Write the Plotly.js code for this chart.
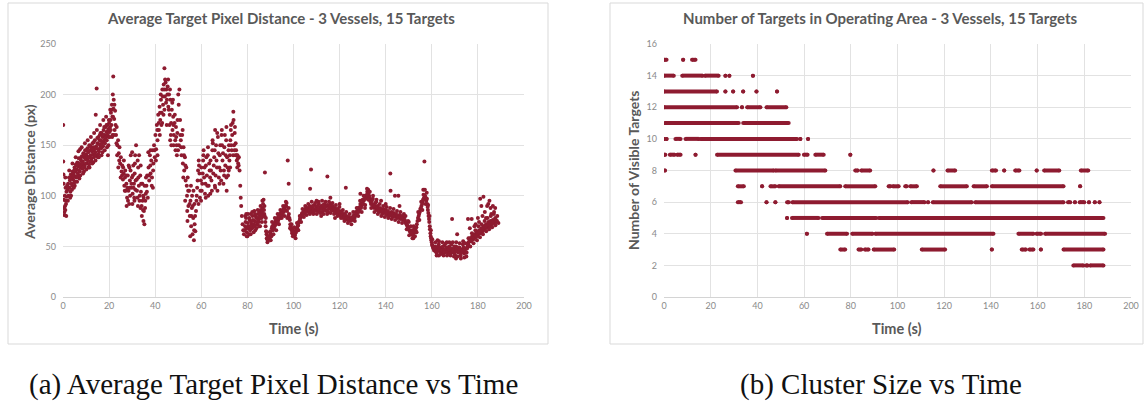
<!DOCTYPE html>
<html>
<head>
<meta charset="utf-8">
<script src="https://cdn.plot.ly/plotly-3.0.1.min.js"></script>
<style>html,body{margin:0;padding:0;background:#fff;}#chart{width:1144px;height:406px;}</style>
</head>
<body>
<div id="chart"></div>
<script>
// ---------------- Chart (a): average target pixel distance vs time ----------------
const timeA = [
0.1,0.1,0.2,0.3,0.4,0.5,0.6,0.7,0.8,0.9,1.0,1.1,1.2,1.3,1.5,1.6,1.8,2.0,
2.2,2.4,2.6,2.8,3.0,3.2,3.4,3.6,3.8,4.0,4.2,4.4,4.6,4.8,5.0,5.2,5.4,5.6,5.8,6.0,
6.2,6.4,6.6,6.8,7.0,7.2,7.4,7.6,7.8,8.0,8.2,8.4,8.6,8.8,9.0,9.2,9.4,9.6,9.8,10.0,
10.2,10.4,10.6,10.8,11.0,11.2,11.4,11.6,11.8,12.0,12.2,12.4,12.6,12.8,13.0,13.2,13.4,13.6,13.8,14.0,
14.2,14.4,14.6,14.8,15.0,15.2,15.4,15.6,15.8,16.0,16.2,16.4,16.6,16.8,17.0,17.2,17.4,17.6,17.8,18.0,
18.2,18.4,18.6,18.8,19.0,19.2,19.4,19.6,19.8,20.0,20.2,20.4,
3.1,5.1,7.1,9.1,11.1,13.1,15.1,17.1,19.1,19.5,
20.6,20.8,21.0,21.2,21.4,21.6,21.8,21.9,22.0,22.2,22.4,21.5,22.6,22.8,
23.0,23.3,23.6,23.9,24.2,24.5,24.8,25.1,25.4,25.7,26.0,26.3,26.6,26.9,27.2,23.5,24.0,25.0,
27.5,27.8,28.1,28.4,28.7,29.0,29.3,29.6,29.9,30.2,30.5,30.8,31.1,31.4,31.7,32.0,32.3,32.6,32.9,33.2,
33.5,33.8,34.1,34.4,34.7,35.0,35.3,35.6,35.9,34.9,33.0,30.0,31.0,28.9,
36.2,36.5,36.8,37.1,37.4,37.7,38.0,38.3,38.6,38.9,39.2,39.5,39.8,40.1,40.4,40.7,41.0,41.3,37.0,39.0,
41.6,41.9,42.2,42.5,42.8,43.1,43.4,43.7,44.0,44.2,44.5,44.8,45.1,45.4,45.7,46.0,46.3,46.6,46.9,47.2,
47.5,47.8,48.1,48.4,48.7,49.0,49.3,49.6,49.9,50.2,50.5,50.8,42.0,43.0,45.0,46.5,48.0,
51.1,51.4,51.7,52.0,52.3,52.6,52.9,53.2,53.5,53.8,54.1,54.4,54.7,55.0,55.3,55.6,55.9,56.2,56.5,56.8,
57.1,57.4,57.7,54.0,55.5,56.0,53.0,57.0,
58.0,58.4,58.8,59.2,59.6,60.0,60.4,60.8,61.2,61.6,62.0,62.4,62.8,63.2,63.6,64.0,64.4,64.8,65.2,65.6,
66.0,66.4,66.8,67.2,67.6,68.0,68.4,68.8,69.2,69.6,70.0,70.4,70.8,71.2,71.6,72.0,72.4,72.8,73.2,73.6,
73.9,74.2,74.5,74.8,75.1,75.4,75.7,76.0,76.3,59.0,61.0,63.0,65.0,67.0,69.0,71.0,72.5,66.0,
76.6,76.9,77.1,77.3,77.6,77.9,78.2,78.5,
79.0,79.4,79.8,80.2,80.6,81.0,81.4,81.8,82.2,82.6,83.0,83.4,83.8,84.2,84.6,85.0,85.4,85.8,86.2,86.6,
87.0,87.3,87.6,87.8,88.1,88.4,88.7,89.0,80.0,83.0,
89.4,89.8,90.2,90.6,91.0,91.4,91.8,92.2,92.6,93.0,93.4,93.8,94.2,94.6,95.0,95.4,95.8,96.2,96.5,96.8,
97.0,97.5,97.9,
98.0,98.4,98.8,99.2,99.6,100.0,100.4,100.8,101.2,
101.6,102.0,102.4,102.8,103.2,103.6,104.0,104.4,104.8,105.2,105.6,106.0,
106.5,107.0,107.6,107.2,107.5,108.0,108.5,109.0,109.5,110.0,110.5,111.0,111.5,112.0,112.5,113.0,113.5,114.0,114.7,114.5,
115.0,115.5,116.0,116.5,117.0,117.5,118.0,118.5,119.0,119.5,120.0,120.5,121.0,121.5,122.0,122.7,122.5,123.0,123.5,124.0,
124.5,125.0,110.0,118.0,112.0,
125.5,126.0,126.5,127.0,127.5,128.0,128.5,129.0,129.5,130.0,130.5,131.0,131.5,132.0,132.4,129.0,131.0,
132.8,133.2,133.6,134.0,134.5,135.0,135.5,136.0,136.5,137.0,137.5,138.0,138.5,139.0,139.5,140.0,140.5,141.0,141.5,142.0,
142.1,142.5,143.0,143.5,144.0,144.5,145.0,145.5,146.0,146.5,147.0,147.5,148.0,136.0,140.0,
148.5,149.0,149.5,150.0,150.5,151.0,151.5,152.0,152.5,153.0,150.0,152.0,
153.5,154.0,154.5,155.0,155.5,156.0,156.3,156.8,156.5,157.0,157.5,157.8,158.0,
158.3,158.6,158.9,159.2,159.5,159.8,160.1,160.4,160.7,
161.0,161.5,162.0,162.5,163.0,163.5,164.0,164.5,165.0,165.5,166.0,166.5,167.0,167.5,168.0,168.5,168.8,169.0,169.5,170.0,
170.5,171.0,171.0,171.5,172.0,172.5,173.0,173.5,174.0,174.5,175.0,175.5,162.5,166.5,170.5,163.0,
175.7,176.0,176.5,177.0,177.3,177.5,178.0,178.5,179.0,179.5,180.0,180.5,181.0,181.0,181.5,182.0,182.4,182.5,183.0,183.5,
184.0,184.5,185.0,185.0,185.5,185.5,186.0,186.5,187.0,187.5,188.0,188.9,184.0,186.5,187.5,180.0,183.0,179.0
];
const distA = [
170,134,121,112,96,88,84,81,100,90,86,108,95,92,104,99,110,106,
112,100,118,108,115,104,121,112,118,110,124,116,121,113,128,119,124,131,118,126,
133,122,129,137,125,131,146,128,135,130,139,127,134,142,131,138,129,145,136,141,
132,139,147,135,143,138,150,134,145,140,148,137,144,152,141,148,138,146,155,143,
180,149,206,140,152,146,158,144,151,160,148,155,147,162,153,158,149,165,155,160,
152,168,158,163,155,170,160,166,158,172,163,168,
98,110,117,124,128,133,138,143,148,140,
175,182,170,190,178,200,218,186,195,176,165,160,184,170,
160,168,150,155,142,148,132,138,124,130,116,122,110,118,105,140,128,118,
112,98,120,105,92,115,125,108,118,102,130,112,122,106,150,116,98,128,110,95,
120,104,90,112,86,98,72,88,102,75,140,143,95,108,
110,120,98,128,115,140,122,135,118,145,132,150,138,160,146,170,155,180,143,108,
165,188,175,195,182,205,190,210,226,198,212,205,195,208,188,200,180,195,172,185,
165,178,160,172,155,168,150,162,145,190,205,175,160,172,170,155,150,
155,140,160,132,148,125,138,115,128,100,118,90,105,80,95,70,88,62,78,56,
72,65,85,75,110,100,95,92,
100,115,92,122,105,128,112,135,118,102,130,120,140,110,125,135,115,145,122,138,
108,150,128,158,118,140,125,160,135,112,148,130,155,138,120,150,140,165,145,172,
183,150,162,140,145,135,140,132,138,130,145,100,152,105,150,105,128,165,
125,110,98,90,80,72,66,62,
70,78,64,73,68,76,62,72,80,70,75,66,78,72,82,74,80,86,78,88,
96,82,123,74,65,58,54,56,60,85,
60,64,62,68,66,72,70,75,73,78,76,80,78,83,81,85,84,88,86,90,
93,135,112,
82,76,70,66,64,62,65,63,66,
68,71,74,77,79,82,80,84,83,86,85,88,
84,90,126,107,86,88,84,91,86,89,85,92,87,90,84,88,92,86,119,90,
84,89,92,86,90,85,88,83,87,81,85,80,83,78,82,108,77,80,76,79,
75,78,95,78,80,
76,80,78,84,82,88,86,92,90,96,95,100,98,104,106,102,88,
100,96,92,95,90,88,93,86,90,84,88,85,82,87,83,86,81,85,80,122,
105,84,79,83,100,82,78,100,81,77,80,76,79,96,92,
74,72,70,67,65,62,66,63,68,66,74,58,
72,78,82,87,90,94,106,134,97,100,96,103,92,
86,80,74,67,60,56,52,50,48,
46,50,44,48,52,45,49,43,47,51,45,48,44,50,46,52,77,44,48,42,
50,46,62,44,49,41,47,52,43,48,40,50,56,54,38,41,
77,54,58,55,77,60,57,62,59,64,61,66,63,97,68,65,99,70,67,72,
69,74,70,95,75,88,72,76,73,78,74,73,90,90,88,78,84,72
];
// additional samples read from the denser parts of the cloud
const timeB = [
2.5,3.3,3.9,4.3,4.9,5.3,5.9,6.3,6.9,7.3,7.9,8.3,8.9,9.3,9.9,10.3,10.9,11.3,11.9,12.3,
12.9,13.3,13.9,14.3,14.9,15.3,15.9,16.3,16.9,17.3,17.9,18.3,18.9,19.3,19.9,20.3,20.7,21.1,21.7,22.1,
23.2,24.4,25.6,26.1,26.8,27.4,27.9,28.5,29.1,29.7,30.3,30.9,31.5,32.1,32.7,33.3,33.9,34.5,35.1,35.7,
36.0,36.4,29.4,32.4,34.2,31.2,28.2,30.6,33.6,27.0,
37.3,37.9,38.5,39.1,39.7,40.3,40.9,41.5,42.1,42.7,43.3,43.9,44.3,44.7,45.3,45.9,46.4,46.8,47.4,47.9,
48.5,49.1,49.7,50.3,50.9,38.0,41.0,44.0,47.0,49.4,
51.3,51.9,52.5,53.1,53.7,54.3,54.9,55.7,56.3,56.9,57.3,57.9,55.2,53.9,52.2,56.6,
58.2,58.6,59.4,59.8,60.2,60.6,61.4,61.8,62.2,62.6,63.4,63.8,64.2,64.6,65.4,65.8,66.2,66.6,67.4,67.8,
68.2,68.6,69.4,69.8,70.2,70.6,71.4,71.8,72.2,72.6,73.0,73.4,73.8,74.0,74.4,74.9,75.3,75.9,76.2,70.9,
78.8,79.2,79.6,80.4,80.8,81.2,81.6,82.0,82.4,82.8,83.2,83.6,84.0,84.4,84.8,85.2,85.6,86.0,86.4,86.8,
87.2,87.5,87.9,88.3,88.6,88.9,79.5,81.5,85.5,86.5,
89.6,90.0,90.4,90.8,91.2,91.6,92.0,92.4,92.8,93.2,93.6,94.0,94.4,94.8,95.2,95.6,96.0,96.4,97.2,97.7,
98.2,98.6,99.0,99.4,99.8,100.2,100.6,101.0,101.4,101.8,102.2,102.6,103.0,103.4,103.8,104.2,104.6,105.0,105.4,105.8,
106.2,106.8,107.3,107.8,108.3,108.8,109.3,109.8,110.3,110.8,111.3,111.8,112.3,112.8,113.3,113.8,114.3,114.8,115.3,115.8,
116.3,116.8,117.3,117.8,118.3,118.8,119.3,119.8,120.3,120.8,121.3,121.8,122.3,122.8,123.3,123.8,124.3,124.8,116.0,120.0,
125.3,125.8,126.3,126.8,127.3,127.8,128.3,128.8,129.3,129.8,130.3,130.8,131.3,131.8,132.2,132.6,133.0,133.4,133.8,134.2,
134.8,135.3,135.8,136.3,136.8,137.3,137.8,138.3,138.8,139.3,139.8,140.3,140.8,141.3,141.8,142.3,142.8,143.3,143.8,144.3,
144.8,145.3,145.8,146.3,146.8,147.3,147.8,134.5,138.0,146.0,
148.3,148.8,149.3,149.8,150.3,150.8,151.3,151.8,152.3,152.8,153.3,153.8,154.3,154.8,155.3,155.8,156.2,156.7,157.2,157.6,
158.2,158.5,158.8,159.1,159.4,159.7,160.0,160.3,160.6,157.0,
161.3,161.8,162.3,162.8,163.3,163.8,164.3,164.8,165.3,165.8,166.3,166.8,167.3,167.8,168.3,168.8,169.3,169.8,170.3,170.8,
171.3,171.8,172.3,172.8,173.3,173.8,174.3,174.8,175.3,175.8,176.3,176.8,177.2,177.8,178.3,178.8,179.3,179.8,180.3,180.8,
181.3,181.8,182.3,182.8,183.3,183.8,184.3,184.8,185.3,185.8,186.3,186.8,187.3,187.8,188.3,176.5,178.5,180.5,182.0,183.5,
185.8,187.0,181.5,184.5
];
const distB = [
108,117,106,119,125,114,130,119,132,124,138,133,128,141,132,145,138,131,149,135,
146,153,140,147,157,141,155,162,150,160,168,156,170,163,175,158,165,185,178,160,
152,135,120,128,105,120,108,130,100,112,120,98,115,105,118,100,112,95,85,95,
118,104,140,135,80,132,95,108,88,125,
120,130,110,125,145,135,165,172,182,170,198,205,215,192,200,185,205,160,192,170,
180,158,175,150,160,145,140,185,150,140,
148,165,140,130,110,105,92,80,90,66,80,95,60,85,118,105,
108,125,98,115,105,122,128,112,138,110,132,118,125,105,130,145,120,135,142,128,
150,115,142,125,160,140,128,145,135,155,150,160,140,175,145,152,140,137,130,118,
66,74,68,70,78,66,74,68,76,72,70,80,74,78,76,84,78,82,84,92,
86,80,70,62,57,60,82,82,70,95,
58,65,60,70,68,67,73,72,77,74,79,82,80,85,83,87,86,90,85,80,
78,72,68,63,66,64,61,64,68,70,73,75,78,80,83,82,86,84,88,86,
87,86,89,84,90,87,85,88,90,87,84,89,87,91,86,89,85,91,87,90,
88,86,88,87,85,84,85,83,82,84,80,79,81,78,78,77,77,76,98,92,
78,79,81,80,83,85,84,89,88,93,92,97,97,101,100,103,98,94,96,92,
91,90,89,88,87,86,87,84,85,85,84,83,83,83,82,81,82,81,80,80,
80,79,78,79,78,78,77,100,95,90,
76,73,71,69,66,64,64,61,65,64,69,75,80,84,88,92,96,98,99,95,
89,83,77,70,63,58,54,51,49,106,
48,45,47,50,47,44,46,50,46,44,49,46,47,43,48,45,46,50,45,47,
49,45,47,44,45,49,46,44,48,52,55,57,56,59,58,61,60,63,64,65,
66,67,68,69,70,71,72,72,73,74,74,75,76,76,75,68,70,74,80,78,
82,84,90,92
];
// outer edge of the cloud (upper and lower spread)
const timeC = [
1.0,1.4,2.1,2.7,3.5,4.1,4.7,5.5,6.1,6.7,7.5,8.1,8.7,9.5,10.1,10.7,11.5,12.1,12.7,13.5,
14.1,14.7,15.5,16.1,16.7,17.5,18.1,18.7,19.7,20.5,21.3,22.3,
26.4,27.6,28.8,30.1,31.3,32.5,33.7,34.8,35.4,
42.4,43.6,45.6,46.2,47.7,48.8,50.0,
58.9,59.9,60.9,61.9,62.9,63.9,64.9,65.9,66.9,67.9,68.9,69.9,70.9,71.9,72.9,74.6,75.6,
79.1,79.7,80.3,80.9,81.5,82.1,82.7,83.3,83.9,84.5,85.1,85.7,86.3,86.9,87.4,88.0,88.5,
90.1,90.7,91.3,91.9,92.5,93.1,93.7,94.3,94.9,95.5,96.1,96.7,97.3,97.9,98.5,99.1,99.7,100.3,100.9,101.5,
102.1,102.7,103.3,103.9,104.5,105.1,105.7,
106.4,107.1,107.9,108.6,109.4,110.1,110.9,111.6,112.4,113.1,113.9,114.6,115.4,116.1,116.9,117.6,118.4,119.1,119.9,120.6,
121.4,122.1,122.9,123.6,124.4,125.1,
125.9,126.6,127.4,128.1,128.9,129.6,130.4,131.1,131.9,132.5,133.1,133.7,134.4,135.1,135.9,136.6,137.4,138.1,138.9,139.6,
140.4,141.1,141.9,142.6,143.4,144.1,144.9,145.6,146.4,147.1,147.9,
148.6,149.1,149.7,150.2,150.9,151.6,152.1,152.7,153.4,154.1,154.6,155.4,155.9,156.4,157.3,157.9,158.4,159.0,159.6,160.2,
161.6,162.1,163.1,163.6,164.6,165.1,166.1,166.6,167.6,168.1,169.1,169.6,170.6,171.1,172.1,172.6,173.6,174.1,174.6,175.1,
175.9,176.7,177.4,178.1,178.9,179.6,180.2,180.9,181.6,182.2,182.9,183.6,184.2,184.9,185.6,186.2,186.9,187.6,188.4
];
const distC = [
118,80,95,125,100,132,108,138,114,144,120,148,122,152,126,155,128,158,132,162,
135,165,138,170,140,175,145,178,150,185,158,190,
135,90,128,92,140,90,130,100,110,
200,180,215,170,195,145,200,
135,95,140,98,148,102,155,110,162,112,165,120,168,125,170,168,128,
80,60,82,62,70,84,64,82,68,86,70,90,74,80,90,78,64,
56,74,62,78,66,82,72,86,78,90,80,94,78,88,68,72,60,69,58,73,
66,80,74,87,79,90,81,
92,82,94,82,93,82,94,83,95,82,94,82,94,83,93,82,91,80,89,78,
86,75,84,73,82,72,
84,75,88,80,95,84,100,91,107,96,104,88,97,84,94,82,92,80,90,79,
89,78,88,77,87,76,85,74,84,73,82,
80,67,75,61,70,58,70,60,64,84,76,94,86,101,92,97,91,80,66,57,
54,41,55,42,54,41,53,41,54,41,54,40,54,40,53,38,55,39,53,44,
58,50,63,53,66,56,70,59,72,62,75,65,78,67,80,69,82,71,80
];

// ---------------- Chart (b): number of visible targets vs time ----------------
// Each run = [start time, end time] during which that target count was observed
const runs15 = [[0,1.1],[8.2,8.2],[12,13.5]];
const runs14 = [[0,4.2],[7.8,16.5],[17.5,23.4],[26.3,26.3],[28,28],[38.1,38.1]];
const runs13 = [[0,22.7],[26.3,26.3],[29.6,29.6],[33.9,33.9],[39.6,39.6],[48.4,48.4]];
const runs12 = [[0,31.3],[33.4,33.4],[35.6,41.3],[43.9,52.4]];
const runs11 = [[0.4,32],[33.9,53.4]];
const runs10 = [[0,0],[1.1,1.1],[4.9,7.1],[9.2,14.9],[15.6,57],[58.4,58.4],[61.7,61.7]];
const runs9 = [[0,0.6],[2.5,4.5],[5.6,7.1],[13.5,13.5],[22.7,57.7],[59.9,61.5],[64.8,68.4],[79.8,79.8]];
const runs8 = [[0.4,0.4],[30.6,47],[47.7,69.1],[81.9,83],[84.5,88.3],[115.4,115.4],[121.4,124.7],[140.4,142.2],
  [145.7,145.7],[150.4,152.2],[159.6,159.6],[162.8,169.3],[178.5,181.7]];
const runs7 = [[31.6,34.2],[42,42],[45.6,47.7],[49.1,75.5],[77.6,90.5],[96.2,97],[98,100.5],[103.3,104],
  [105.5,108.3],[118.3,129.7],[132.6,138.3],[140.4,171.1],[178.2,178.2]];
const runs6 = [[31.6,33],[43.9,43.9],[47.7,47.7],[52.7,53.5],[55,104.4],[105.9,111.6],[113.1,113.1],
  [115.1,131.8],[133.3,171.1],[173,174],[176,176],[178,180],[182,182],[184.5,184.5],[186.5,186.5]];
const runs5 = [[52.7,52.7],[54.8,66.2],[67.7,90.9],[92,188.2]];
const runs4 = [[61.2,61.2],[69.8,78.4],[80.6,89.3],[90.5,141.1],[151.8,158.2],[159.5,161.5],[163.2,188.9]];
const runs3 = [[75.5,77.6],[83.3,84.5],[86,87.6],[89.8,98.6],[110.4,120.4],[140.4,140.4],[153.2,155],
  [156.5,158.2],[161.4,161.4],[171.1,188.2]];
const runs2 = [[175.3,179.6],[180.7,181.5],[182.5,188.2]];
const targetLevels = [15,14,13,12,11,10,9,8,7,6,5,4,3,2];
const runsByLevel = [runs15,runs14,runs13,runs12,runs11,runs10,runs9,runs8,runs7,runs6,runs5,runs4,runs3,runs2];

// ---------------- text ----------------
const titleA = "Average Target Pixel Distance - 3 Vessels, 15 Targets";
const titleB = "Number of Targets in Operating Area - 3 Vessels, 15 Targets";
const xTitle = "Time (s)";
const yTitleA = "Average Distance (px)";
const yTitleB = "Number of Visible Targets";
const captionA = "(a) Average Target Pixel Distance vs Time";
const captionB = "(b) Cluster Size vs Time";

// ---------------- build ----------------
const RED = "#8E1B30";
const W = 1144, H = 406;
const px = v => v / W;
const py = v => 1 - v / H;

const bx = [], by = [];
targetLevels.forEach((lvl, i) => {
  runsByLevel[i].forEach(r => { bx.push(r[0], r[1], null); by.push(lvl, lvl, null); });
});

const traces = [
  { type: "scatter", mode: "markers", x: timeA.concat(timeB, timeC), y: distA.concat(distB, distC),
    xaxis: "x", yaxis: "y", marker: { color: RED, size: 4, line: { width: 0 } }, hoverinfo: "skip" },
  { type: "scatter", mode: "lines+markers", x: bx, y: by, xaxis: "x2", yaxis: "y2",
    line: { color: RED, width: 4 }, marker: { color: RED, size: 4 }, connectgaps: false, hoverinfo: "skip" }
];

const sans = "Lato, 'Open Sans', sans-serif";
const tickFont = { family: sans, size: 9, color: "#8a8a8a" };
const gridC = "#e2e2e2";
const axisBase = { showgrid: true, gridcolor: gridC, gridwidth: 1, zeroline: false, ticks: "",
  tickfont: tickFont, fixedrange: true };

function ann(text, x, y, size, extra) {
  return Object.assign({ text: text, xref: "paper", yref: "paper", x: px(x), y: py(y), showarrow: false,
    xanchor: "center", yanchor: "middle", font: { family: sans, size: size, color: "#595959" } }, extra || {});
}

const layout = {
  width: W, height: H,
  margin: { l: 0, r: 0, t: 0, b: 0 },
  paper_bgcolor: "#ffffff", plot_bgcolor: "#ffffff",
  showlegend: false,
  xaxis: Object.assign({}, axisBase, { domain: [px(63), px(524)], range: [0, 200], dtick: 20, tick0: 0,
    anchor: "y", showline: true, linecolor: "#d4d4d4", linewidth: 1 }),
  yaxis: Object.assign({}, axisBase, { domain: [py(297), py(44)], range: [0, 250], dtick: 50, tick0: 0,
    anchor: "x", ticklabelstandoff: 6 }),
  xaxis2: Object.assign({}, axisBase, { domain: [px(664), px(1131)], range: [0, 200], dtick: 20, tick0: 0,
    anchor: "y2", showline: true, linecolor: "#d4d4d4", linewidth: 1 }),
  yaxis2: Object.assign({}, axisBase, { domain: [py(297), py(44)], range: [0, 16], dtick: 2, tick0: 0,
    anchor: "x2", ticklabelstandoff: 6 }),
  shapes: [
    { type: "rect", xref: "paper", yref: "paper", x0: px(8), x1: px(548), y0: py(344), y1: py(3),
      line: { color: "#d9d9d9", width: 1 }, fillcolor: "rgba(0,0,0,0)", layer: "below" },
    { type: "rect", xref: "paper", yref: "paper", x0: px(610), x1: px(1143), y0: py(344), y1: py(3),
      line: { color: "#d9d9d9", width: 1 }, fillcolor: "rgba(0,0,0,0)", layer: "below" }
  ],
  annotations: [
    ann("<b>" + titleA + "</b>", 281, 18, 15),
    ann("<b>" + titleB + "</b>", 880, 18, 15),
    ann("<b>" + xTitle + "</b>", 294, 328, 14.5),
    ann("<b>" + xTitle + "</b>", 897, 328, 14.5),
    ann("<b>" + yTitleA + "</b>", 30, 172, 14, { textangle: -90 }),
    ann("<b>" + yTitleB + "</b>", 633, 170, 14, { textangle: -90 }),
    ann(captionA, 273, 384, 29, { font: { family: "'Liberation Serif', 'DejaVu Serif', serif", size: 29, color: "#111111" } }),
    ann(captionB, 881, 384, 29, { font: { family: "'Liberation Serif', 'DejaVu Serif', serif", size: 29, color: "#111111" } })
  ]
};

Plotly.newPlot("chart", traces, layout, { staticPlot: true, displayModeBar: false });
</script>
</body>
</html>
